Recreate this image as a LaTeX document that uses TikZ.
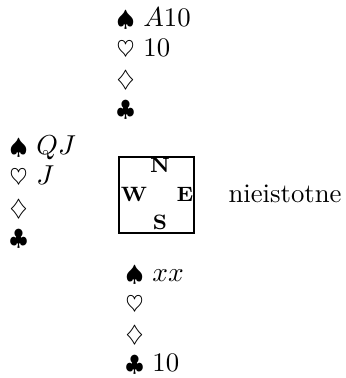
\documentclass[tikz,border=0pt]{standalone}
\newcommand{\suitS}{{\fontsize{8.8}{10}\selectfont$\spadesuit$}}
\newcommand{\suitH}{{\fontsize{9.2}{10}\selectfont$\heartsuit$}}
\newcommand{\suitD}{{\fontsize{9.2}{10}\selectfont$\diamondsuit$}}
\newcommand{\suitC}{{\fontsize{8.8}{10}\selectfont$\clubsuit$}}
\begin{document}
\begin{tikzpicture}[x=0.4pt,y=-0.4pt,
  hand/.style={anchor=base west,inner sep=0pt,font=\fontsize{10.7}{13}\selectfont},
  dir/.style={anchor=base,inner sep=0pt,font=\fontsize{8.3}{9}\selectfont\bfseries},
  compass/.style={draw,line width=0.45pt,minimum width=30pt,minimum height=30.4pt,inner sep=0pt}]
\useasboundingbox (0,0) rectangle (345,378);
% North
\node[hand] (n1) at (116,27) {\suitS\ $A$10};
\node[hand] (n2) at (116,57) {\suitH\ 10};
\node[hand] (n3) at (116,87) {\suitD};
\node[hand] (n4) at (116,117) {\suitC};
% West
\node[hand] (w1) at (9,155) {\suitS\ $QJ$};
\node[hand] (w2) at (9,185) {\suitH\ $J$};
\node[hand] (w3) at (9,216) {\suitD};
\node[hand] (w4) at (9,246) {\suitC};
% South
\node[hand] (s1) at (125,281) {\suitS\ $xx$};
\node[hand] (s2) at (125,311) {\suitH};
\node[hand] (s3) at (125,341) {\suitD};
\node[hand] (s4) at (125,371) {\suitC\ 10};
% compass box
\node[compass] (box) at (156.5,195) {};
\node[dir] (dN) at (160,173) {N};
\node[dir] (dW) at (134,202) {W};
\node[dir] (dE) at (185,202) {E};
\node[dir] (dS) at (160,230) {S};
% East
\node[hand] (east) at (228,203) {nieistotne};
\end{tikzpicture}
\end{document}
